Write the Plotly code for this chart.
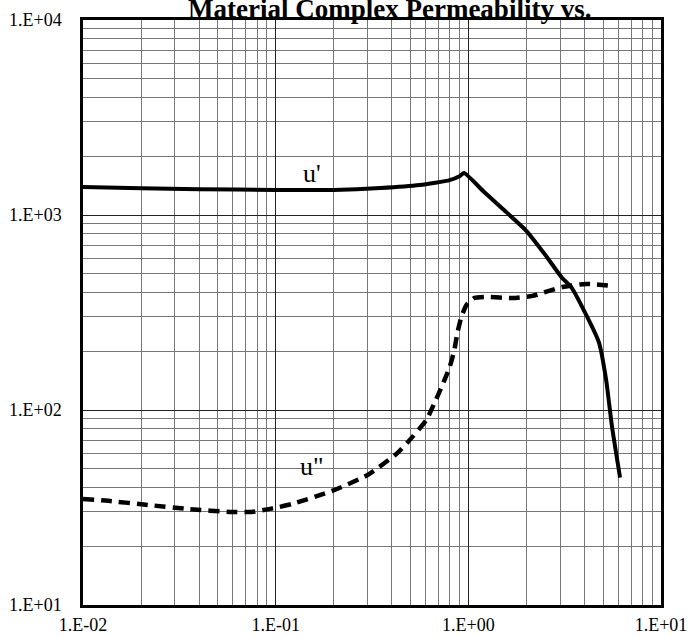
import plotly.graph_objects as go

freq_re = [0.01, 0.02, 0.04, 0.1, 0.2, 0.35, 0.56, 0.8, 0.9, 0.95, 1.2, 1.5, 2.0, 2.5, 3.07, 3.42, 4.14, 4.77, 5.19, 5.57, 6.13]
u_re = [1390, 1370, 1355, 1345, 1345, 1375, 1425, 1510, 1580, 1640, 1320, 1080, 830, 627, 475, 427, 300, 221, 143, 82, 45]

# u'' (imaginary part)
freq_im = [0.01, 0.0135, 0.0217, 0.0358, 0.059, 0.075, 0.095, 0.122, 0.202, 0.300, 0.428, 0.513, 0.606, 0.667,
           0.733, 0.80, 0.846, 0.877, 0.920, 0.977, 1.074, 1.24, 1.69, 2.15, 3.07, 4.09, 5.70]
u_im = [35.0, 34.2, 32.6, 31.0, 30.0, 30.0, 31.2, 33.0, 38.9, 46.4, 60.1, 72.8, 88.9, 108.6,
        134, 166, 203, 248, 300, 345, 375, 380, 375, 385, 427, 443, 432]

x_ticks = [0.01, 0.1, 1, 10]
x_labels = ["1.E-02", "1.E-01", "1.E+00", "1.E+01"]
y_ticks = [10, 100, 1000, 10000]
y_labels = ["1.E+01", "1.E+02", "1.E+03", "1.E+04"]

title = "Material Complex Permeability vs."
serif = "Liberation Serif"

fig = go.Figure()
fig.add_trace(go.Scatter(x=freq_re, y=u_re, mode="lines", line=dict(color="black", width=4, shape="spline", smoothing=0.5),
                         showlegend=False))
fig.add_trace(go.Scatter(x=freq_im, y=u_im, mode="lines",
                         line=dict(color="black", width=4.5, dash="11px,7px", shape="spline", smoothing=0.5),
                         showlegend=False))

# labels (log axes -> positions in exponent units)
fig.add_annotation(x=-0.8125, y=3.215, text="u'", showarrow=False, font=dict(family=serif, size=26, color="black"))
fig.add_annotation(x=-0.81, y=1.708, text="u\"", showarrow=False, font=dict(family=serif, size=26, color="black"))

fig.add_annotation(x=(389 - 83) / (661 - 83), xref="paper", xanchor="center", y=1, yref="paper", yanchor="bottom",
                   yshift=-6, text="<b>" + title + "</b>", showarrow=False,
                   font=dict(family=serif, size=27, color="black"))

axis_common = dict(type="log", showline=True, linecolor="black", linewidth=2.5, mirror=True, automargin=False,
                   showgrid=True, gridcolor="#222", gridwidth=1, ticks="", zeroline=False,
                   tickfont=dict(family=serif, size=18, color="black"),
                   minor=dict(dtick="D1", showgrid=True, gridcolor="#777", gridwidth=1, ticks=""))

fig.update_xaxes(range=[-2, 1], tickvals=x_ticks, ticktext=x_labels, ticklabelstandoff=2, **axis_common)
fig.update_yaxes(range=[1, 4], tickvals=y_ticks, ticktext=y_labels, ticklabelstandoff=15, **axis_common)

fig.update_layout(width=694, height=637, margin=dict(l=83, r=33, t=20, b=32),
                  plot_bgcolor="white", paper_bgcolor="white")

# drop the page's default body margin so the figure sits at the window's corner
fig.write_html("out.html", config={"displayModeBar": False},
               post_script="document.body.style.margin='0px';")
